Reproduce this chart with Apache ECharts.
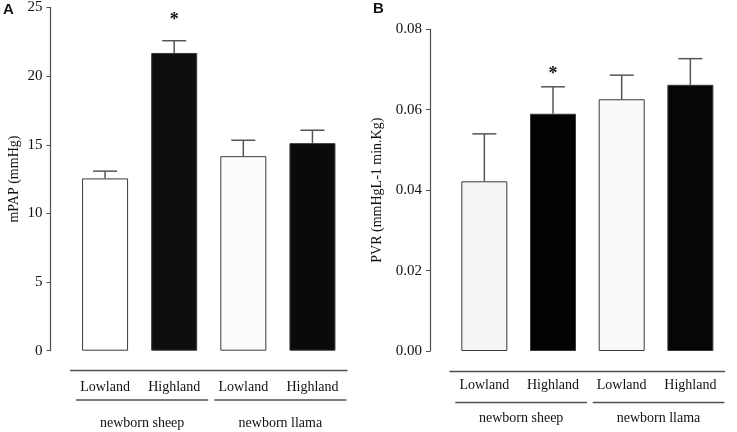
<!DOCTYPE html>
<html>
<head>
<meta charset="utf-8">
<script src="https://cdn.jsdelivr.net/npm/echarts@6/dist/echarts.min.js"></script>
<style>
  html, body { margin: 0; padding: 0; background: #fff; }
  #chart { width: 737px; height: 432px; }
</style>
</head>
<body>
<div id="chart"></div>
<script>
const categories = ['Lowland', 'Highland', 'Lowland', 'Highland']
const groups = [
  { name: 'newborn sheep', from: 0, to: 1 },
  { name: 'newborn llama', from: 2, to: 3 }
]

// panel A: mPAP (mmHg)
const mpapMean = [12.55, 21.69, 14.17, 15.12]
const mpapErr = [0.53, 0.89, 1.16, 0.94]
const mpapStar = ['', '*', '', '']

// panel B: PVR
const pvrMean = [0.0422, 0.0590, 0.0626, 0.0662]
const pvrErr = [0.0118, 0.0067, 0.0060, 0.0065]
const pvrStar = ['', '*', '', '']

const fillsA = ['#ffffff', '#0e0e0e', '#fcfcfc', '#0a0a0a']
const fillsB = ['#f5f5f5', '#020202', '#fafafa', '#060606']

const serif = "'Liberation Serif', 'Times New Roman', serif"
const axisGray = '#505050'

const chart = echarts.init(document.getElementById('chart'))

function errorRenderer(stars, starGap) {
  return (params, api) => {
    const i = api.value(0)
    const base = api.coord([i, api.value(1)])
    const top = api.coord([i, api.value(1) + api.value(2)])
    const style = { stroke: '#555', lineWidth: 1.5 }
    const children = [
      { type: 'line', shape: { x1: base[0], y1: base[1], x2: top[0], y2: top[1] }, style },
      { type: 'line', shape: { x1: top[0] - 12, y1: top[1], x2: top[0] + 12, y2: top[1] }, style }
    ]
    if (stars[i]) {
      children.push({
        type: 'text',
        style: {
          text: stars[i], x: top[0], y: top[1] - starGap,
          align: 'center', verticalAlign: 'middle',
          font: 'bold 18px ' + serif, fill: '#111'
        }
      })
    }
    return { type: 'group', children }
  }
}

function xAxisFor(gridIndex, labelMargin) {
  return {
    type: 'category',
    gridIndex,
    data: categories,
    offset: 20,
    axisLine: { onZero: false, lineStyle: { color: axisGray, width: 1.3 } },
    axisTick: { inside: true, length: 4, alignWithLabel: true, lineStyle: { color: axisGray } },
    axisLabel: { color: '#111', fontFamily: serif, fontSize: 14, margin: labelMargin }
  }
}

function yAxisFor(gridIndex, max, interval, name, nameGap, fmt) {
  return {
    type: 'value',
    gridIndex,
    min: 0,
    max,
    interval,
    offset: 20,
    name,
    nameLocation: 'middle',
    nameGap,
    nameTextStyle: { color: '#111', fontFamily: serif, fontSize: 14 },
    splitLine: { show: false },
    axisLine: { show: true, onZero: false, lineStyle: { color: axisGray, width: 1.2 } },
    axisTick: { show: true, length: 4, lineStyle: { color: axisGray } },
    axisLabel: { color: '#111', fontFamily: serif, fontSize: 15, formatter: fmt }
  }
}

function barSeries(idx, means, fills) {
  return {
    type: 'bar',
    xAxisIndex: idx,
    yAxisIndex: idx,
    barWidth: 46,
    data: means.map((v, i) => ({
      value: v,
      itemStyle: { color: fills[i], borderColor: '#3a3a3a', borderWidth: 1 }
    })),
    silent: true
  }
}

function errSeries(idx, means, errs, stars, gap) {
  return {
    type: 'custom',
    xAxisIndex: idx,
    yAxisIndex: idx,
    renderItem: errorRenderer(stars, gap),
    data: means.map((m, i) => [i, m, errs[i]]),
    z: 5,
    silent: true
  }
}

const panelTitle = { fontFamily: 'Liberation Sans, Arial', fontWeight: 'bold', fontSize: 15, color: '#111' }

chart.setOption({
  animation: false,
  title: [
    { text: 'A', left: 3, top: 2, padding: 0, textStyle: panelTitle },
    { text: 'B', left: 373, top: 1, padding: 0, textStyle: panelTitle }
  ],
  grid: [
    { left: 70.5, top: 6.7, width: 276.5, height: 344 },
    { left: 450, top: 29.3, width: 274.7, height: 321.7 }
  ],
  xAxis: [xAxisFor(0, 10), xAxisFor(1, 7)],
  yAxis: [
    yAxisFor(0, 25, 5, 'mPAP (mmHg)', 29),
    yAxisFor(1, 0.08, 0.02, 'PVR (mmHgL-1 min.Kg)', 46, v => v.toFixed(2))
  ],
  series: [
    barSeries(0, mpapMean, fillsA),
    errSeries(0, mpapMean, mpapErr, mpapStar, 20),
    barSeries(1, pvrMean, fillsB),
    errSeries(1, pvrMean, pvrErr, pvrStar, 12)
  ]
})

// group brackets below the category labels
function groupGraphics(gridIndex, lineY, textY) {
  const out = []
  groups.forEach(g => {
    const a = chart.convertToPixel({ xAxisIndex: gridIndex }, g.from)
    const b = chart.convertToPixel({ xAxisIndex: gridIndex }, g.to)
    const x0 = a - 29
    const x1 = b + 34
    out.push({
      type: 'line',
      shape: { x1: x0, y1: lineY, x2: x1, y2: lineY },
      style: { stroke: axisGray, lineWidth: 1.3 }
    })
    out.push({
      type: 'text',
      x: (x0 + x1) / 2,
      y: textY,
      style: {
        text: g.name, align: 'center', verticalAlign: 'middle',
        font: '14px ' + serif, fill: '#111'
      }
    })
  })
  return out
}

chart.setOption({
  graphic: groupGraphics(0, 400, 423).concat(groupGraphics(1, 402.5, 418))
})
</script>
</body>
</html>
